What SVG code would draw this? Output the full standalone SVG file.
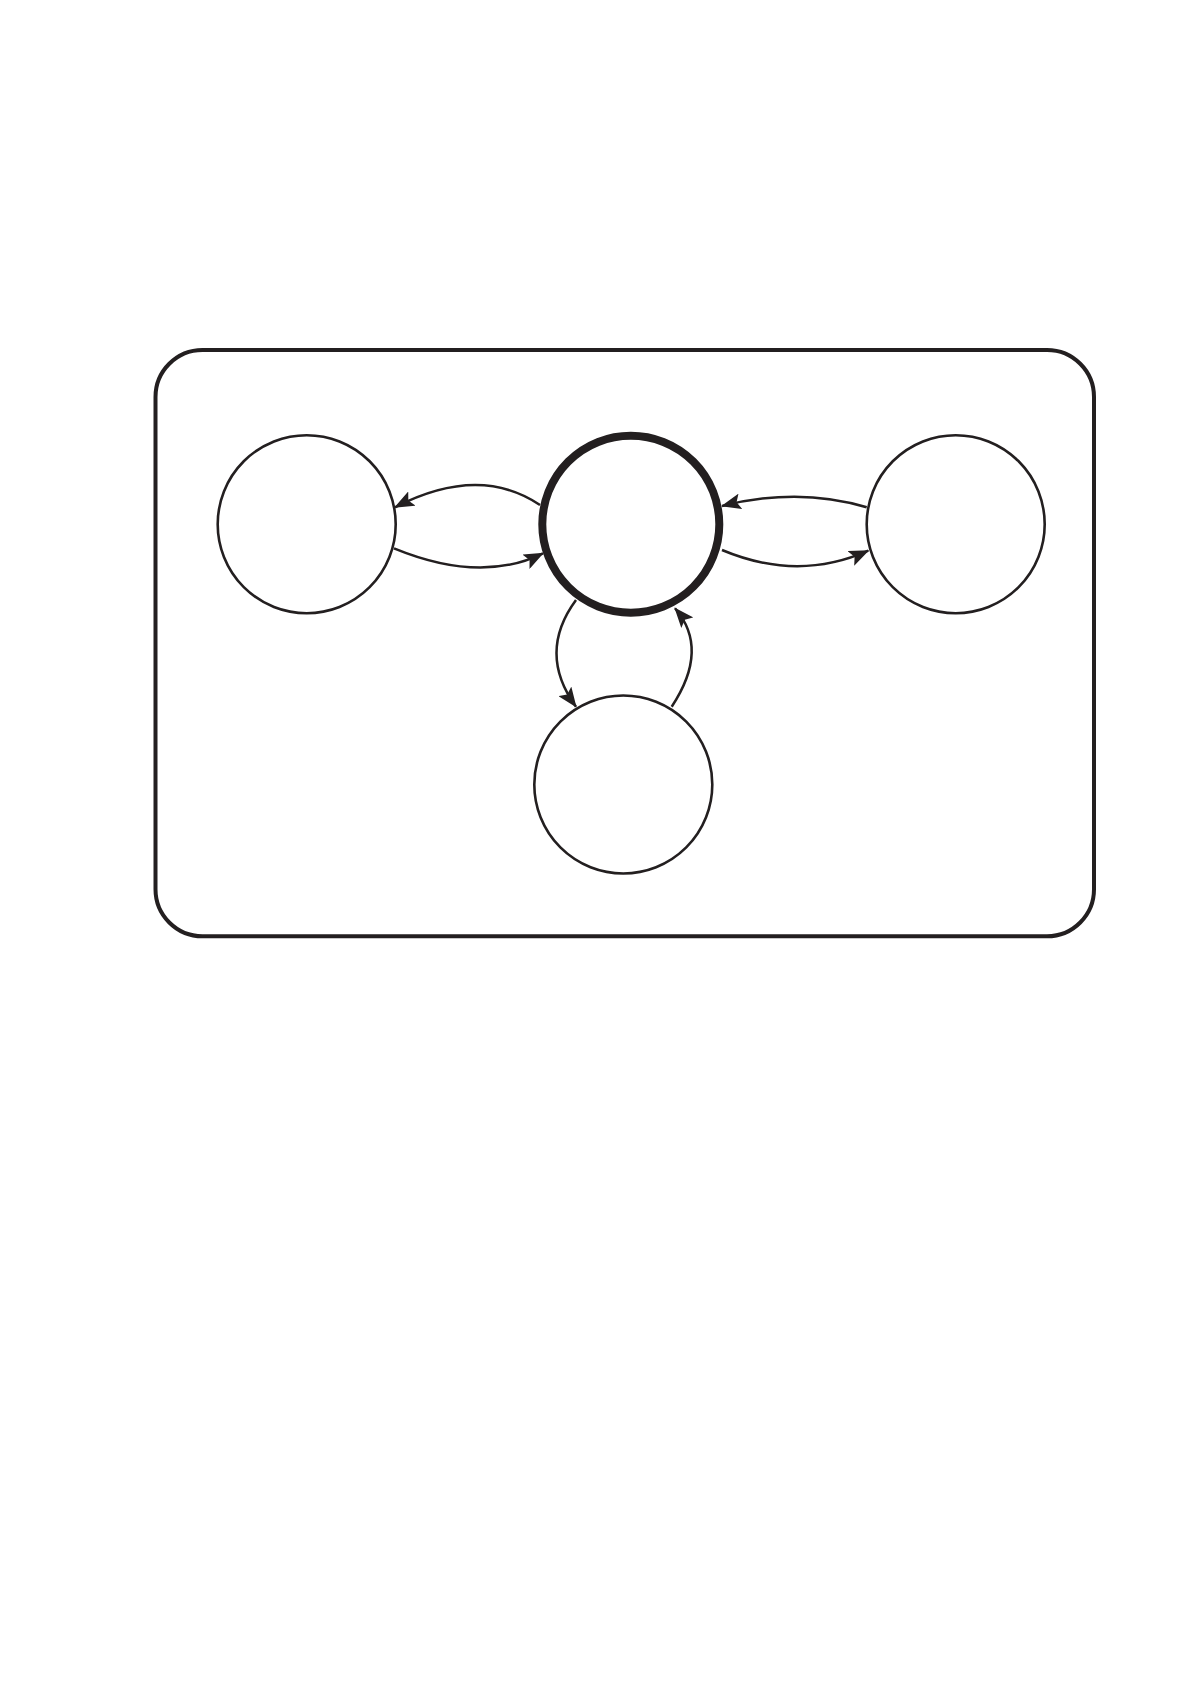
<svg xmlns="http://www.w3.org/2000/svg" width="1190" height="1684" viewBox="0 0 1190 1684">
  <style>
    .frame { fill: none; stroke: #231f20; stroke-width: 4; }
    .node { fill: #ffffff; stroke: #231f20; stroke-width: 2.6; }
    .main { fill: #ffffff; stroke: #231f20; stroke-width: 8; }
    .edge { fill: none; stroke: #231f20; stroke-width: 2.5; marker-end: url(#arrow); }
  </style>
  <defs>
    <marker id="arrow" viewBox="0 0 20 16" refX="19" refY="8" markerWidth="20" markerHeight="16" markerUnits="userSpaceOnUse" orient="auto">
      <path d="M0,0 L20,8 L0,16 L4,8 z" fill="#231f20"/>
    </marker>
  </defs>
  <rect width="1190" height="1684" fill="#ffffff"/>
  <rect id="frame" class="frame" x="155.5" y="350" width="938.5" height="586.3" rx="47" ry="47"/>
  <g id="connectors">
    <path class="edge" d="M540,505 Q479,464 395,507.3"/>
    <path class="edge" d="M394,548.3 Q481,584 543,553.3"/>
    <path class="edge" d="M866.7,507.3 Q799,486.7 722,506"/>
    <path class="edge" d="M722,550 Q798,582 868.3,550.7"/>
    <path class="edge" d="M576,600 Q537,653 576,706.7"/>
    <path class="edge" d="M671.7,706.7 Q710,649 675,608.3"/>
  </g>
  <g id="node-left"><circle class="node" cx="306.7" cy="524.2" r="89"/></g>
  <g id="node-center"><circle class="main" cx="630.8" cy="524.2" r="88.5"/></g>
  <g id="node-right"><circle class="node" cx="955.7" cy="524.2" r="89"/></g>
  <g id="node-bottom"><circle class="node" cx="623.3" cy="784.5" r="89"/></g>
</svg>
